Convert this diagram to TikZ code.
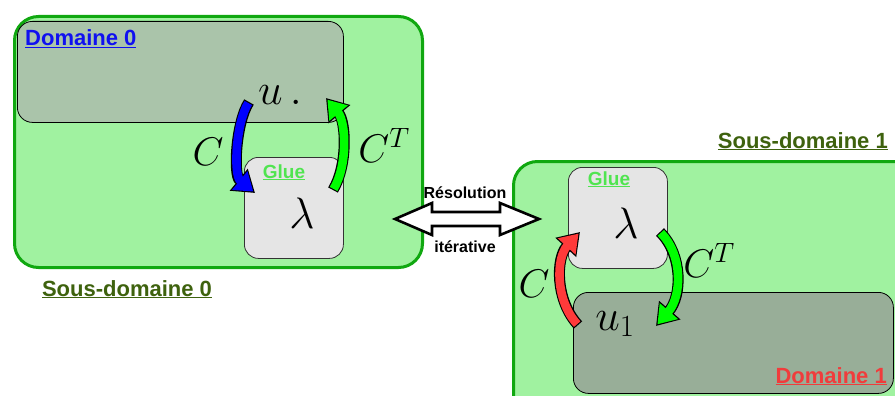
\documentclass[tikz,border=0pt]{standalone}
\usepackage{fix-cm}
\usepackage{fontspec}
\setmainfont{Liberation Sans}
\usetikzlibrary{arrows.meta,positioning}

\definecolor{subfill}{RGB}{160,242,160}
\definecolor{subline}{RGB}{16,168,16}
\definecolor{domfillA}{RGB}{170,196,170}
\definecolor{domfillB}{RGB}{152,174,152}
\definecolor{gluefill}{RGB}{229,229,229}
\definecolor{gluetext}{RGB}{80,228,80}
\definecolor{subtext}{RGB}{62,98,14}
\definecolor{domblue}{RGB}{16,16,240}
\definecolor{domred}{RGB}{240,60,60}
\definecolor{arrblue}{RGB}{0,0,255}
\definecolor{arrgreen}{RGB}{0,255,0}
\definecolor{arrred}{RGB}{255,58,58}

\tikzset{
  subbox/.style={draw=subline, fill=subfill, line width=3pt, rounded corners=24pt, anchor=north west, inner sep=0pt},
  dombox/.style={draw=black, line width=0.8pt, rounded corners=15pt, anchor=north west, inner sep=0pt},
  gluebox/.style={draw=black!80, fill=gluefill, line width=0.8pt, rounded corners=14pt, anchor=north west, inner sep=0pt},
  lbl/.style={font=\bfseries\fontsize{22}{22}\selectfont, inner sep=0pt},
  gluelbl/.style={font=\bfseries\fontsize{19}{19}\selectfont, text=gluetext, inner sep=0pt, anchor=base},
  itlbl/.style={font=\bfseries\fontsize{16}{16}\selectfont, inner sep=0pt, anchor=base},
  big/.style={font=\fontsize{44}{44}\selectfont, inner sep=0pt, anchor=base},
  bigc/.style={font=\fontsize{40}{40}\selectfont, inner sep=0pt, anchor=base},
  fatout/.style={line width=11pt, black, -{Triangle[length=21pt,width=27pt]}},
  fatin/.style={line width=8.6pt, #1, -{Triangle[length=17.5pt,width=23pt]}, shorten <=1.2pt, shorten >=2.2pt},
}

\begin{document}
\begin{tikzpicture}[x=1pt, y=-1pt]
    \useasboundingbox (0,0) rectangle (895,396);
    \clip (0,0) rectangle (895,396);

    % Sub-domain frames
    \node[subbox, minimum width=408pt, minimum height=251pt] (sub0) at (13,15) {};
    \node[subbox, minimum width=430pt, minimum height=290pt] (sub1) at (512,160) {};

    % Domains and glue boxes
    \node[dombox, fill=domfillA, minimum width=326pt, minimum height=101pt] (dom0) at (17,21) {};
    \node[gluebox, minimum width=99pt, minimum height=101pt] (glue0) at (244,157) {};
    \node[gluebox, minimum width=99pt, minimum height=101pt] (glue1) at (568,167) {};
    \node[dombox, fill=domfillB, minimum width=320pt, minimum height=101pt] (dom1) at (573,292) {};

    % Box labels
    \node[lbl, text=domblue, anchor=base west] (dom0lbl) at (25,46) {\underline{Domaine 0}};
    \node[lbl, text=subtext, anchor=base] (sub0lbl) at (127,296) {\underline{Sous-domaine 0}};
    \node[lbl, text=subtext, anchor=base east] (sub1lbl) at (888,148) {\underline{Sous-domaine 1}};
    \node[lbl, text=domred, anchor=base east] (dom1lbl) at (887,383) {\underline{Domaine 1}};
    \node[gluelbl] (glue0lbl) at (284,178) {\underline{Glue}};
    \node[gluelbl] (glue1lbl) at (609,185) {\underline{Glue}};

    % Unknowns
    \node[big] (u0) at (280,105) {$u\,.$};
    \node[big] (lam0) at (302,228) {$\lambda$};
    \node[big] (lam1) at (626,238) {$\lambda$};
    \node[big] (u1) at (615,330) {$u_1$};

    % Operator labels
    \node[bigc] (c0) at (208,165) {$C$};
    \node[bigc] (ct0) at (384,162) {$C^T$};
    \node[bigc] (c1) at (534,297) {$C$};
    \node[bigc] (ct1) at (709,277) {$C^T$};

    % Ends of the curved arrows
    \coordinate (b0s) at (249,102);
    \coordinate (b0e) at (255,193);
    \coordinate (g0s) at (333,190);
    \coordinate (g0e) at (326,98);
    \coordinate (r1s) at (578,325);
    \coordinate (r1e) at (580,232);
    \coordinate (g1s) at (660,232);
    \coordinate (g1e) at (656,326);

    % Curved arrows, black outline then colour
    \draw[fatout] (b0s) .. controls (236,122) and (233,175) .. (b0e);
    \draw[fatin=arrblue] (b0s) .. controls (236,122) and (233,175) .. (b0e);
    \draw[fatout] (g0s) .. controls (348,165) and (346,122) .. (g0e);
    \draw[fatin=arrgreen] (g0s) .. controls (348,165) and (346,122) .. (g0e);
    \draw[fatout] (r1s) .. controls (555,300) and (556,258) .. (r1e);
    \draw[fatin=arrred] (r1s) .. controls (555,300) and (556,258) .. (r1e);
    \draw[fatout] (g1s) .. controls (683,255) and (682,296) .. (g1e);
    \draw[fatin=arrgreen] (g1s) .. controls (683,255) and (682,296) .. (g1e);

    % Iterative solve double arrow
    \draw[line width=2.6pt, fill=white, line join=miter] (395,219) -- (432,203) -- (432,212) -- (500,212)
        -- (500,203) -- (539,219) -- (500,235) -- (500,226) -- (432,226) -- (432,235) -- cycle;
    \node[itlbl] (res) at (465,198) {Résolution};
    \node[itlbl] (iter) at (465,252) {itérative};
\end{tikzpicture}
\end{document}
